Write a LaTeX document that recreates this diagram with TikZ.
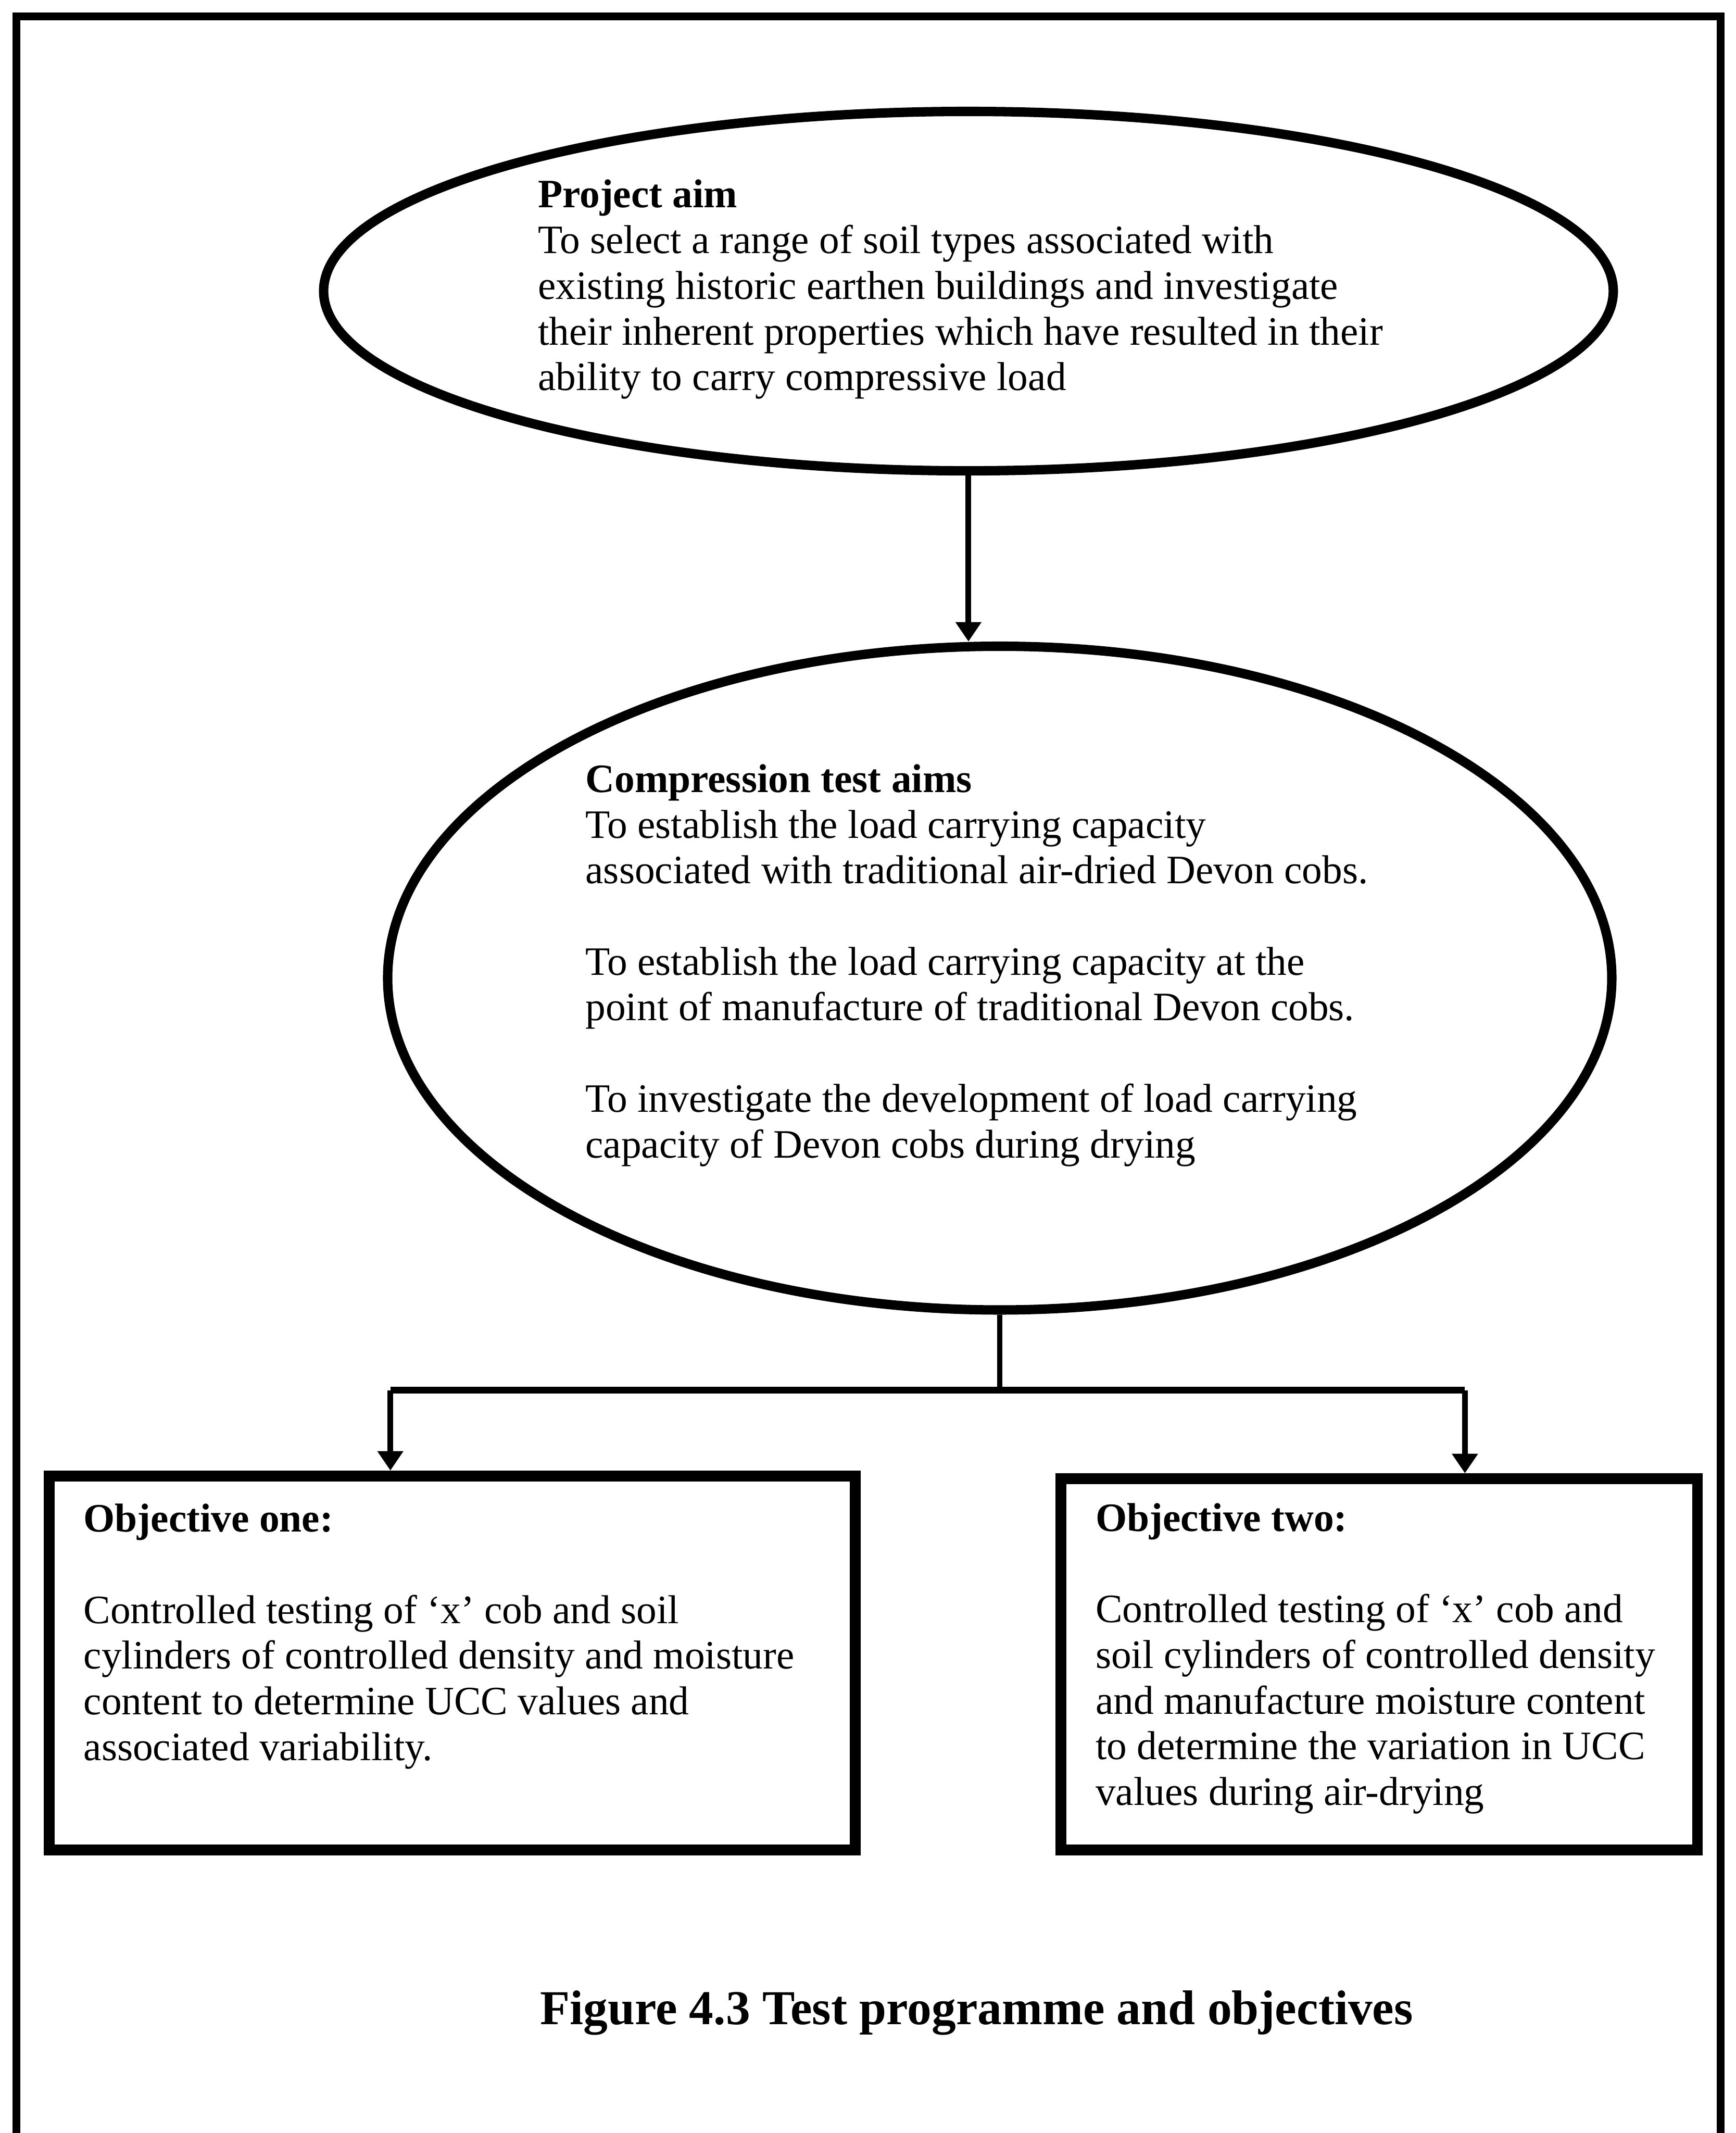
\documentclass[tikz,border=0pt]{standalone}
\usepackage{fontspec}
\setmainfont{Liberation Serif}
\usetikzlibrary{shapes.geometric,arrows.meta}

\tikzset{
  aimbubble/.style={draw, ellipse, line width=2.8pt, inner sep=0pt},
  objbox/.style={draw, rectangle, line width=3.2pt, inner sep=0pt},
  bodytext/.style={align=left, inner sep=0pt, anchor=base west, font=\fontsize{12}{13.6}\selectfont},
  link/.style={line width=1.7pt},
  arrowlink/.style={link, -{Triangle[length=5.8pt,width=7.4pt]}},
}

\begin{document}
\begin{tikzpicture}[x=0.405pt,y=-0.405pt]
    \useasboundingbox (0,0) rectangle (1276,1568);
    \draw[line width=2.4pt] (12,1568) -- (12,12) -- (1265,12) -- (1265,1568);

    \node[aimbubble, minimum width=384pt, minimum height=107pt] (aim) at (712,214) {};
    \node[aimbubble, minimum width=364.5pt, minimum height=197.6pt] (tests) at (735,719) {};
    \node[objbox, minimum width=240pt, minimum height=111.4pt] (obj1) at (332.5,1222.5) {};
    \node[objbox, minimum width=189.5pt, minimum height=110.6pt] (obj2) at (1014,1223.5) {};

    \node[bodytext] (aimtext) at (395,287) {\textbf{Project aim}\\
      To select a range of soil types associated with\\
      existing historic earthen buildings and investigate\\
      their inherent properties which have resulted in their\\
      ability to carry compressive load};
    \node[bodytext] (teststext) at (430,851) {\textbf{Compression test aims}\\
      To establish the load carrying capacity\\
      associated with traditional air-dried Devon cobs.\\[13.6pt]
      To establish the load carrying capacity at the\\
      point of manufacture of traditional Devon cobs.\\[13.6pt]
      To investigate the development of load carrying\\
      capacity of Devon cobs during drying};
    \node[bodytext] (obj1text) at (61,1294) {\textbf{Objective one:}\\[13.6pt]
      Controlled testing of ‘x’ cob and soil\\
      cylinders of controlled density and moisture\\
      content to determine UCC values and\\
      associated variability.};
    \node[bodytext] (obj2text) at (805,1327) {\textbf{Objective two:}\\[13.6pt]
      Controlled testing of ‘x’ cob and\\
      soil cylinders of controlled density\\
      and manufacture moisture content\\
      to determine the variation in UCC\\
      values during air-drying};
    \node[anchor=base, inner sep=0pt, font=\fontsize{14.5}{16.5}\selectfont\bfseries] (caption) at (718,1488)
      {Figure 4.3 Test programme and objectives};

    \coordinate (branchL) at (287,1022);
    \coordinate (branchR) at (1077,1022);
    \draw[arrowlink] (aim.south) -- (aim.south |- tests.north);
    \draw[link] (tests.south) -- (tests.south |- branchL);
    \draw[link, line width=2pt] (branchL) -- (branchR);
    \draw[arrowlink] (branchL) -- (branchL |- obj1.north);
    \draw[arrowlink] (branchR) -- (branchR |- obj2.north);
\end{tikzpicture}
\end{document}
